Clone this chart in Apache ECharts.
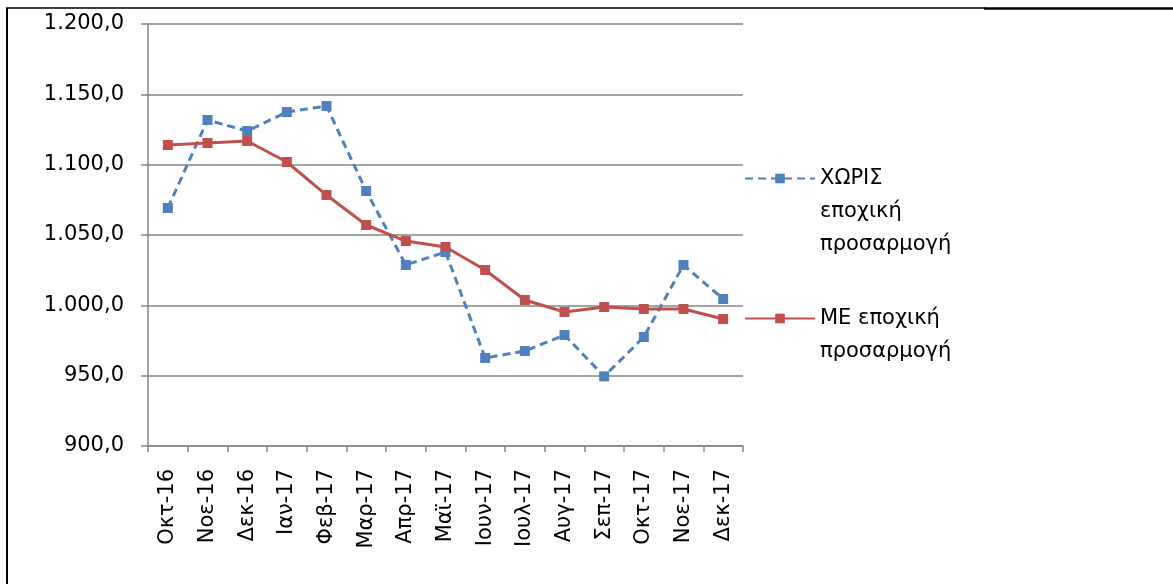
<!DOCTYPE html>
<html><head><meta charset="utf-8">
<script src="https://cdn.jsdelivr.net/npm/echarts@6/dist/echarts.min.js"></script>
<style>html,body{margin:0;padding:0;background:#fff}#c{width:1173px;height:584px}</style>
</head><body><div id="c"></div>
<script>
const categories = ['Οκτ-16','Νοε-16','Δεκ-16','Ιαν-17','Φεβ-17','Μαρ-17','Απρ-17','Μαϊ-17','Ιουν-17','Ιουλ-17','Αυγ-17','Σεπ-17','Οκτ-17','Νοε-17','Δεκ-17'];
const withoutSeasonal = [1069.2,1131.8,1123.9,1137.4,1141.7,1081.3,1028.7,1037.9,962.6,967.5,978.9,949.5,977.5,1028.7,1004.5];
const withSeasonal = [1114.0,1115.4,1116.8,1101.9,1078.4,1057.1,1045.7,1041.5,1025.1,1003.8,995.3,998.8,997.4,997.4,990.3];
const seriesNames = ['ΧΩΡΙΣ εποχική προσαρμογή','ΜΕ εποχική προσαρμογή'];
const legendLines = {
  'ΧΩΡΙΣ εποχική προσαρμογή': ' \n \nΧΩΡΙΣ\nεποχική\nπροσαρμογή',
  'ΜΕ εποχική προσαρμογή': ' \nΜΕ εποχική\nπροσαρμογή'
};
const FONT = 'DejaVu Sans';
const chart = echarts.init(document.getElementById('c'));
function fmt(v){
  const s = v.toFixed(1).split('.');
  const int = s[0].replace(/\B(?=(\d{3})+(?!\d))/g,'.');
  return int + ',' + s[1];
}
const legendBase = {
  orient:'vertical', left:744, itemWidth:70, itemHeight:12, itemGap:0, padding:0,
  selectedMode:false,
  formatter: n => legendLines[n],
  textStyle:{fontFamily:FONT, fontSize:21, color:'#000', lineHeight:33}
};
chart.setOption({
  animation:false,
  textStyle:{fontFamily:FONT},
  grid:{left:148, right:430, top:24, bottom:138, containLabel:false},
  legend:[
    Object.assign({}, legendBase, {top:96, data:[seriesNames[0]]}),
    Object.assign({}, legendBase, {top:269, data:[seriesNames[1]]})
  ],
  xAxis:{
    type:'category', data:categories, boundaryGap:true,
    axisLine:{lineStyle:{color:'#868686', width:1.5}},
    axisTick:{show:true, length:6, alignWithLabel:false, lineStyle:{color:'#868686', width:1.5}},
    axisLabel:{rotate:90, margin:23, color:'#000', fontSize:21, fontFamily:FONT, interval:0}
  },
  yAxis:{
    type:'value', min:900, max:1200, interval:50,
    axisLine:{show:true, lineStyle:{color:'#868686', width:1.5}},
    axisTick:{show:true, inside:false, length:7, lineStyle:{color:'#868686', width:1.5}},
    splitLine:{lineStyle:{color:'#868686', width:1.5}},
    axisLabel:{margin:24, color:'#000', fontSize:21, fontFamily:FONT, formatter: v => fmt(v)}
  },
  series:[
    {name:seriesNames[0], type:'line', data:withoutSeasonal, symbol:'rect', symbolSize:10,
     itemStyle:{color:'#4F81BD'}, lineStyle:{color:'#4F81BD', width:3, type:[8,5]}},
    {name:seriesNames[1], type:'line', data:withSeasonal, symbol:'rect', symbolSize:10,
     itemStyle:{color:'#C0504D'}, lineStyle:{color:'#C0504D', width:3, type:'solid'}}
  ],
  graphic:[
    {type:'line', shape:{x1:7,y1:8,x2:7,y2:584}, style:{stroke:'#000', lineWidth:2}},
    {type:'line', shape:{x1:6,y1:8,x2:985,y2:8}, style:{stroke:'#000', lineWidth:1.5}},
    {type:'line', shape:{x1:984,y1:8.5,x2:1173,y2:8.5}, style:{stroke:'#000', lineWidth:2.5}}
  ]
});
</script></body></html>
